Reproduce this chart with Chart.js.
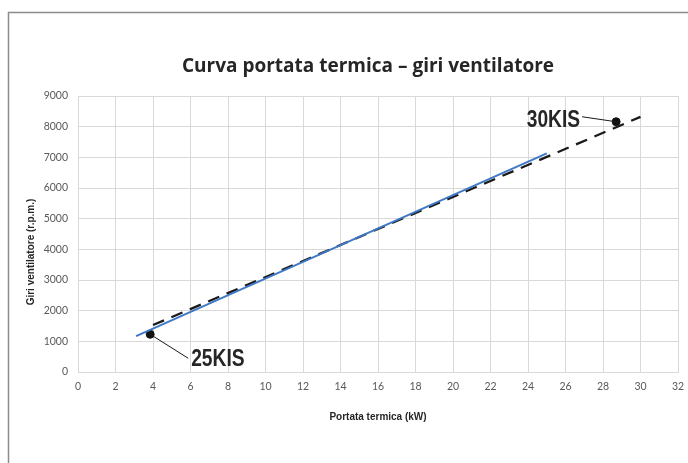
<!DOCTYPE html>
<html>
<head>
<meta charset="utf-8">
<script src="https://cdn.jsdelivr.net/npm/chart.js@4.4.1/dist/chart.umd.min.js"></script>
<style>
    html, body { margin: 0; padding: 0; background: #fff; }
    #wrap { width: 688px; height: 463px; }
</style>
</head>
<body>
<div id="wrap"><canvas id="fanChart"></canvas></div>
<script>
// Curve data (kW vs r.p.m.)
const curveKw = [3.1, 25];
const curveRpm = [1170, 7130];
const trendKw = [4, 30];
const trendRpm = [1530, 8320];
const modelNames = ['25KIS', '30KIS'];
const modelKw = [3.85, 28.7];
const modelRpm = [1230, 8160];

const xMin = 0, xMax = 32, xStep = 2;
const yMin = 0, yMax = 9000, yStep = 500;

const chartTitle = 'Curva portata termica – giri ventilatore';

const toPoints = (xs, ys) => xs.map((x, i) => ({ x: x, y: ys[i] }));

// frame, titles and model callouts
const decorations = {
    id: 'decorations',
    beforeDraw(chart) {
        const ctx = chart.ctx;
        ctx.save();
        ctx.fillStyle = '#fff';
        ctx.fillRect(0, 0, chart.width, chart.height);
        ctx.strokeStyle = '#8c8c8c';
        ctx.lineWidth = 1.5;
        ctx.beginPath();
        ctx.moveTo(8.5, chart.height);
        ctx.lineTo(8.5, 12.5);
        ctx.lineTo(chart.width, 12.5);
        ctx.stroke();
        ctx.restore();
    },
    afterDraw(chart) {
        const ctx = chart.ctx;
        const xs = chart.scales.x, ys = chart.scales.y;

        ctx.save();
        ctx.font = 'bold 19px "Open Sans", Lato, sans-serif';
        ctx.fillStyle = '#262626';
        ctx.textAlign = 'center';
        ctx.textBaseline = 'middle';
        ctx.fillText(chartTitle, 368, 67);
        ctx.restore();

        ctx.save();
        ctx.translate(31, 252);
        ctx.rotate(-Math.PI / 2);
        ctx.font = 'bold 10px "Liberation Sans", Arial, sans-serif';
        ctx.fillStyle = '#262626';
        ctx.textAlign = 'center';
        ctx.textBaseline = 'middle';
        ctx.fillText('Giri ventilatore (r.p.m.)', 0, 0);
        ctx.restore();

        modelNames.forEach((name, i) => {
            const px = xs.getPixelForValue(modelKw[i]);
            const py = ys.getPixelForValue(modelRpm[i]);
            let lx, ly, tx, ty, align;
            if (i === 0) {
                lx = px + 38; ly = py + 24; tx = px + 41; ty = py + 32; align = 'left';
            } else {
                lx = px - 34; ly = py - 5; tx = px - 36; ty = py + 5; align = 'right';
            }
            ctx.save();
            ctx.strokeStyle = '#1a1a1a';
            ctx.lineWidth = 1;
            ctx.beginPath();
            ctx.moveTo(px, py);
            ctx.lineTo(lx, ly);
            ctx.stroke();
            ctx.translate(tx, ty);
            ctx.scale(0.8, 1);
            ctx.font = 'bold 24px "Liberation Sans", Arial, sans-serif';
            ctx.fillStyle = '#262626';
            ctx.textAlign = align;
            ctx.textBaseline = 'alphabetic';
            ctx.fillText(name, 0, 0);
            ctx.restore();
        });
    }
};

const tickFont = { family: 'Lato, "Open Sans", sans-serif', size: 10.5 };

new Chart(document.getElementById('fanChart'), {
    type: 'scatter',
    data: {
        datasets: [
            {
                label: 'Curva',
                data: toPoints(curveKw, curveRpm),
                showLine: true,
                borderColor: '#3f78c6',
                borderWidth: 2,
                pointRadius: 0
            },
            {
                label: 'Tendenza',
                data: toPoints(trendKw, trendRpm),
                showLine: true,
                borderColor: '#1a1a1a',
                borderWidth: 2.25,
                borderDash: [12, 8],
                pointRadius: 0
            },
            {
                label: 'Modelli',
                data: toPoints(modelKw, modelRpm),
                showLine: false,
                pointRadius: 4,
                pointBackgroundColor: '#111',
                pointBorderColor: '#111'
            }
        ]
    },
    options: {
        responsive: true,
        maintainAspectRatio: false,
        animation: false,
        layout: { padding: { left: 0, right: 10, top: 96, bottom: 0 } },
        plugins: {
            legend: { display: false },
            tooltip: { enabled: false },
            title: { display: false }
        },
        scales: {
            x: {
                type: 'linear',
                min: xMin,
                max: xMax,
                afterFit(scale) {
                    scale.height = 91;
                    scale.paddingLeft = 0;
                    scale.paddingRight = 0;
                },
                ticks: { stepSize: xStep, color: '#595959', font: tickFont, padding: 8, maxRotation: 0 },
                grid: { color: '#d9d9d9', drawTicks: false },
                border: { color: '#d9d9d9' },
                title: {
                    display: true,
                    text: 'Portata termica (kW)',
                    color: '#262626',
                    font: { family: '"Liberation Sans", Arial, sans-serif', size: 10, weight: 'bold', lineHeight: 1.2 },
                    padding: { top: 0, bottom: 40 }
                }
            },
            y: {
                type: 'linear',
                min: yMin,
                max: yMax,
                afterFit(scale) {
                    scale.width = 78;
                    scale.paddingTop = 0;
                    scale.paddingBottom = 0;
                },
                ticks: {
                    stepSize: yStep,
                    color: '#595959',
                    font: tickFont,
                    padding: 10,
                    callback: (v) => String(v)
                },
                grid: { color: '#d9d9d9', drawTicks: false },
                border: { color: '#d9d9d9' }
            }
        }
    },
    plugins: [decorations]
});
</script>
</body>
</html>
